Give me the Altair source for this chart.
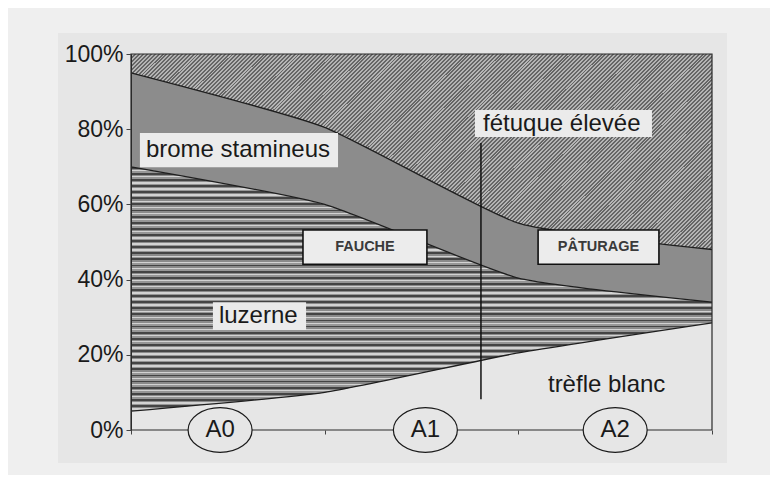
import altair as alt
import pandas as pd

# ---- data (percent of sward) ----
years = [0, 1, 2, 3]
trefle = [5, 10, 20.5, 28.5]
luzerne = [65, 50, 19.9, 5.5]
brome = [25, 20.5, 14.6, 14]
fetuque = [5, 19.5, 45, 52]

period_labels = ["A0", "A1", "A2"]
period_pos = [0.46, 1.52, 2.5]

y_ticks = [0, 0.2, 0.4, 0.6, 0.8, 1.0]
x_ticks = [0, 1, 2, 3]

# annotation texts (data coordinates)
label_text = ["brome stamineus", "fétuque élevée", "luzerne", "trèfle blanc"]
label_x = [0.077, 1.818, 0.454, 2.153]
label_y = [0.745, 0.815, 0.303, 0.12]
label_box_x = [0.046, 1.776, 0.423]
label_box_x2 = [1.069, 2.690, 0.904]
label_box_y = [0.790, 0.851, 0.340]
label_box_y2 = [0.699, 0.779, 0.266]

mode_text = ["FAUCHE", "PÂTURAGE"]
mode_x = [1.208, 2.414]
mode_y = [0.487, 0.487]
mode_box_x = [0.888, 2.102]
mode_box_x2 = [1.528, 2.726]
mode_box_y = [0.532, 0.532]
mode_box_y2 = [0.441, 0.441]

switch_x = [1.807]
switch_y = [0.082]
switch_y2 = [0.763]

# ---- build stacked table ----
df = pd.DataFrame({"x": years})
c1 = [a / 100 for a in trefle]
c2 = [c1[i] + luzerne[i] / 100 for i in range(4)]
c3 = [c2[i] + brome[i] / 100 for i in range(4)]
c4 = [c3[i] + fetuque[i] / 100 for i in range(4)]
df["c1"], df["c2"], df["c3"], df["c4"] = c1, c2, c3, c4

FONT = "Liberation Sans"
TXT = "#1a1a1a"
PANEL = "#e6e6e6"
CURVE = dict(interpolate="cardinal", tension=0.5)


def stripes(n, pattern):
    stops = []
    for i in range(n):
        acc = 0.0
        for frac, col in pattern:
            stops.append({"offset": min(1.0, (i + acc) / n), "color": col})
            acc += frac
            stops.append({"offset": min(1.0, (i + acc) / n), "color": col})
    return stops


# diagonal hatch for fétuque (45 degree lines in pixel space)
W, H = 581.0, 196.0
r = H / W
s = (1 + r) / (1 + r * r)
hatch = {
    "gradient": "linear", "x1": 0, "y1": 0, "x2": s, "y2": s * r,
    "stops": stripes(200, [(0.5, "#666666"), (0.5, "#b4b4b4")]),
}
# wavy rows for luzerne (horizontal bands)
waves = {
    "gradient": "linear", "x1": 0, "y1": 0, "x2": 0, "y2": 1,
    "stops": stripes(40, [(0.3, "#444444"), (0.22, "#8a8a8a"),
                          (0.23, "#d2d2d2"), (0.25, "#969696")]),
}

xs = alt.Scale(domain=[0, 3], nice=False, zero=False)
ys = alt.Scale(domain=[0, 1], nice=False)

one = pd.DataFrame({"a": [0]})

panel = alt.Chart(one).mark_rect(fill=PANEL).encode(
    x=alt.value(-73), x2=alt.value(596), y=alt.value(-21), y2=alt.value(409)
)

base = alt.Chart(df)
X = alt.X("x:Q", scale=xs,
          axis=alt.Axis(values=x_ticks, labels=False, domain=False, grid=False,
                        title=None, tickSize=4, tickColor="#444", zindex=1))
Yax = alt.Axis(values=y_ticks, format=".0%", grid=False, title=None,
               labelFont=FONT, labelFontSize=23, labelColor=TXT,
               labelPadding=3, tickSize=5, tickColor="#444",
               domainColor="#2a2a2a", zindex=1)


def area(lo, hi, fill):
    return base.mark_area(fill=fill, **CURVE).encode(
        x=X, y=alt.Y(f"{hi}:Q", scale=ys, stack=False, axis=Yax), y2=f"{lo}:Q"
    )


a_fet = area("c3", "c4", hatch)
a_bro = area("c2", "c3", "#8c8c8c")
a_luz = area("c1", "c2", waves)


def bline(col):
    return base.mark_line(color="#1e1e1e", strokeWidth=1.3, **CURVE).encode(
        x=alt.X("x:Q", scale=xs), y=alt.Y(f"{col}:Q", scale=ys)
    )


lines = [bline("c1"), bline("c2"), bline("c3")]

frame = alt.Chart(pd.DataFrame({"x": [0], "x2": [3], "y": [0], "y2": [1]})).mark_rect(
    filled=False, stroke="#2a2a2a", strokeWidth=1.2
).encode(x=alt.X("x:Q", scale=xs), x2="x2:Q", y=alt.Y("y:Q", scale=ys), y2="y2:Q")

switch = alt.Chart(pd.DataFrame({"x": switch_x, "y": switch_y, "y2": switch_y2})).mark_rule(
    color="#111111", strokeWidth=1.5
).encode(x=alt.X("x:Q", scale=xs), y=alt.Y("y:Q", scale=ys), y2="y2:Q")

lbox = alt.Chart(pd.DataFrame({"x": label_box_x, "x2": label_box_x2,
                               "y": label_box_y, "y2": label_box_y2})).mark_rect(
    fill="#ebebeb"
).encode(x=alt.X("x:Q", scale=xs), x2="x2:Q", y=alt.Y("y:Q", scale=ys), y2="y2:Q")

ltext = alt.Chart(pd.DataFrame({"x": label_x, "y": label_y, "t": label_text})).mark_text(
    font=FONT, fontSize=24, align="left", baseline="middle", color=TXT
).encode(x=alt.X("x:Q", scale=xs), y=alt.Y("y:Q", scale=ys), text="t:N")

mbox = alt.Chart(pd.DataFrame({"x": mode_box_x, "x2": mode_box_x2,
                               "y": mode_box_y, "y2": mode_box_y2})).mark_rect(
    fill="#ececec", stroke="#111111", strokeWidth=1.6
).encode(x=alt.X("x:Q", scale=xs), x2="x2:Q", y=alt.Y("y:Q", scale=ys), y2="y2:Q")

mtext = alt.Chart(pd.DataFrame({"x": mode_x, "y": mode_y, "t": mode_text})).mark_text(
    font=FONT, fontSize=14.5, fontWeight="bold", align="center", baseline="middle",
    color="#3a3a3a"
).encode(x=alt.X("x:Q", scale=xs), y=alt.Y("y:Q", scale=ys), text="t:N")

ell_df = pd.DataFrame({"x": period_pos, "y": [0, 0, 0], "t": period_labels})
ellipse = alt.Chart(ell_df).mark_point(
    shape="M-1,0A1,0.7,0,1,1,1,0A1,0.7,0,1,1,-1,0Z", size=4096, filled=True,
    fill=PANEL, fillOpacity=1, stroke="#1a1a1a", strokeWidth=1.2, opacity=1
).encode(x=alt.X("x:Q", scale=xs), y=alt.Y("y:Q", scale=ys))
etext = alt.Chart(ell_df).mark_text(
    font=FONT, fontSize=24, align="center", baseline="middle", color=TXT
).encode(x=alt.X("x:Q", scale=xs), y=alt.Y("y:Q", scale=ys), text="t:N")

chart = alt.layer(
    panel, a_fet, a_bro, a_luz, *lines, frame, switch, lbox, ltext, mbox, mtext,
    ellipse, etext
).properties(
    width=581, height=376,
    autosize=alt.AutoSizeParams(type="none"),
    padding={"left": 123, "top": 46, "right": 58, "bottom": 45},
    background="#efefef",
).configure_view(strokeWidth=0)

chart.save("out.html", embed_options={"renderer": "svg", "actions": False})
